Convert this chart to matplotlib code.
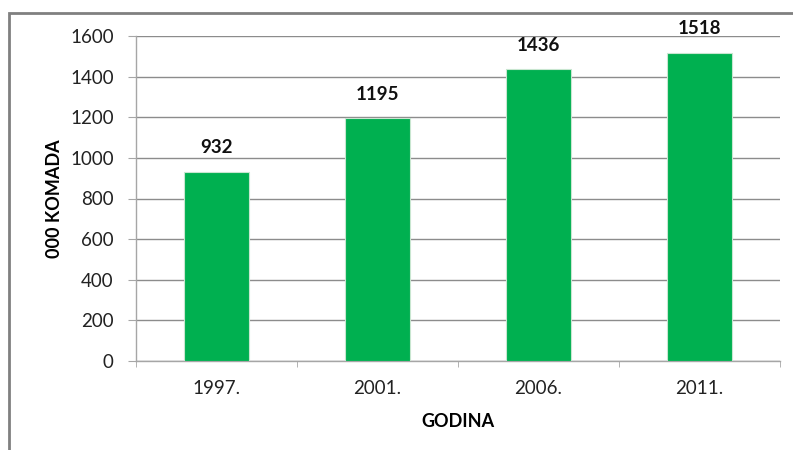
import matplotlib
matplotlib.use('Agg')
import matplotlib.pyplot as plt
from matplotlib.patches import Rectangle

godine = ['1997.', '2001.', '2006.', '2011.']
komada = [932, 1195, 1436, 1518]
y_ticks = [0, 200, 400, 600, 800, 1000, 1200, 1400, 1600]

plt.rcParams['font.family'] = ['Lato', 'DejaVu Sans']

fig = plt.figure(figsize=(7.93, 4.5), dpi=100)
ax = fig.add_axes([136/793, 1-361/450, (780-136)/793, (361-36)/450])

x = range(len(godine))
ax.bar(x, komada, width=0.4, color='#00B050', edgecolor='#c8e6d0', linewidth=0.8, zorder=3)
for i, v in enumerate(komada):
    ax.annotate(str(v), (i, v), xytext=(0, 24), textcoords='offset pixels',
                ha='center', va='center', fontsize=13.5, fontweight='bold', color='#111111')

ax.set_xlim(-0.5, len(godine)-0.5)
ax.set_ylim(0, 1600)
ax.set_yticks(y_ticks)
ax.set_xticks(list(x))
ax.set_xticklabels(godine)
ax.set_xticks([i-0.5 for i in range(len(godine)+1)], minor=True)
ax.tick_params(axis='x', which='major', length=0, pad=14, labelsize=13.5, labelcolor='#222222')
ax.tick_params(axis='x', which='minor', length=4, color='#a6a6a6', direction='out')
ax.tick_params(axis='y', length=6, color='#a6a6a6', labelsize=13.5, labelcolor='#222222', pad=10)
ax.yaxis.grid(True, color='#8c8c8c', linewidth=1)
ax.set_axisbelow(True)
for s in ['top', 'right']:
    ax.spines[s].set_visible(False)
for s in ['left', 'bottom']:
    ax.spines[s].set_color('#a6a6a6')
    ax.spines[s].set_linewidth(1)

ax.set_xlabel('GODINA', fontsize=13, fontweight='bold', labelpad=11)
ax.set_ylabel('000 KOMADA', fontsize=13, fontweight='bold', labelpad=5)

fig.patches.append(Rectangle((9/793, -0.05), 1.1, 0.05+1-13/450, transform=fig.transFigure,
                             fill=False, edgecolor='#808080', linewidth=2))

fig.savefig('out.png', dpi=100)
